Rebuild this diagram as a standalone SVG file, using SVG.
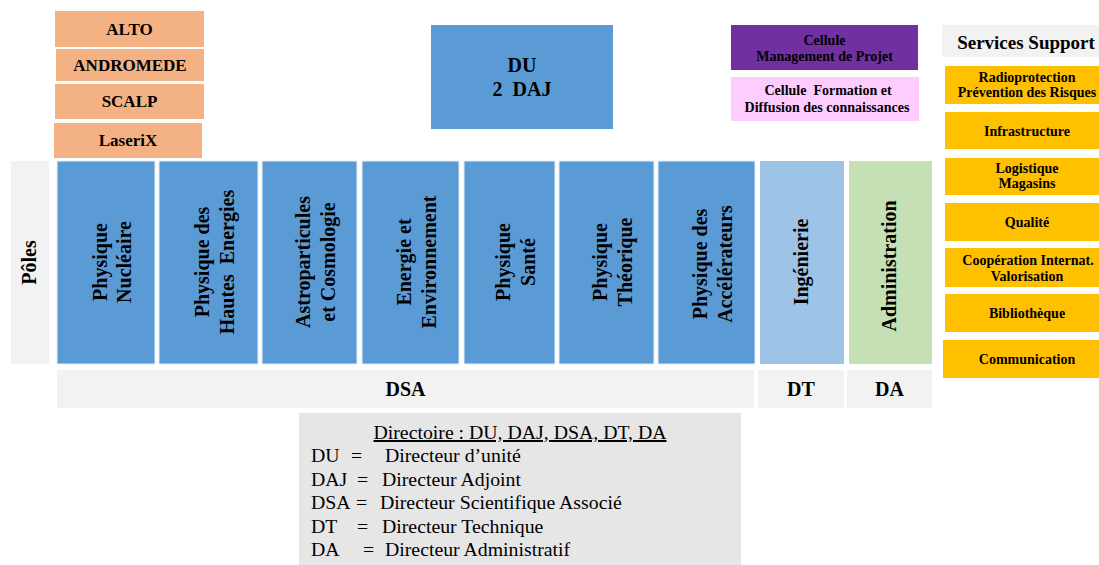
<svg xmlns="http://www.w3.org/2000/svg" width="1099" height="565" viewBox="0 0 1099 565">
<style>
text{font-family:"Liberation Serif","Times New Roman",serif;fill:#000}
.b{font-weight:bold}
.c{text-anchor:middle}
.f20{font-size:20px}
.f17{font-size:17px}
.f14{font-size:14px}
.reg{font-size:19.8px}
.orange{fill:#F4B183}
.blue{fill:#5B9BD5;stroke:#E3EEF9;stroke-width:1}
.lblue{fill:#9DC3E6}
.green{fill:#C5E0B4}
.gray{fill:#F2F2F2}
.gold{fill:#FFC000}
.purple{fill:#7030A0}
.pink{fill:#FFCCFF}
.dgray{fill:#E7E6E6}
</style>
<rect width="1099" height="565" fill="#fff"/>

<!-- Platforms -->
<g id="alto"><rect class="orange" x="55" y="11" width="149" height="36"/><text class="b c f17" x="129.5" y="35">ALTO</text></g>
<g id="andromede"><rect class="orange" x="56" y="49" width="148" height="32"/><text class="b c f17" x="130" y="71">ANDROMEDE</text></g>
<g id="scalp"><rect class="orange" x="55" y="84" width="149" height="35"/><text class="b c f17" x="129.5" y="107">SCALP</text></g>
<g id="laserix"><rect class="orange" x="54" y="123" width="148" height="35"/><text class="b c f17" x="128" y="146">LaseriX</text></g>

<!-- Direction -->
<g id="du"><rect fill="#5B9BD5" x="431" y="25" width="182" height="104"/>
<text class="b c f20" x="522" y="72">DU</text><text class="b c f20" x="522" y="96" xml:space="preserve">2  DAJ</text></g>

<!-- Cellules -->
<g id="cellule-mp"><rect class="purple" x="731" y="25" width="187" height="45"/>
<text class="b c f14" x="824.5" y="45">Cellule</text><text class="b c f14" x="824.5" y="61">Management de Projet</text></g>
<g id="cellule-formation"><rect class="pink" x="731" y="77" width="188" height="44"/>
<text class="b c f14" x="828" y="95" xml:space="preserve">Cellule  Formation et</text><text class="b c f14" x="827" y="112">Diffusion des connaissances</text></g>

<!-- Services support -->
<g id="services-support"><rect class="gray" x="942" y="25" width="157" height="32"/><text class="b c" style="font-size:19px" x="1026" y="49">Services Support</text></g>
<g id="radioprotection"><rect class="gold" x="945" y="66" width="154" height="38"/>
<text class="b c f14" x="1027" y="82">Radioprotection</text><text class="b c f14" x="1027" y="97">Prévention des Risques</text></g>
<g id="infrastructure"><rect class="gold" x="945" y="112" width="154" height="37"/><text class="b c f14" x="1027" y="136">Infrastructure</text></g>
<g id="logistique"><rect class="gold" x="945" y="158" width="154" height="37"/>
<text class="b c f14" x="1027" y="173">Logistique</text><text class="b c f14" x="1027" y="188">Magasins</text></g>
<g id="qualite"><rect class="gold" x="945" y="203" width="154" height="38"/><text class="b c f14" x="1027" y="227">Qualité</text></g>
<g id="cooperation"><rect class="gold" x="945" y="248" width="154" height="39"/>
<text class="b c f14" x="1028" y="265">Coopération Internat.</text><text class="b c f14" x="1027" y="281">Valorisation</text></g>
<g id="bibliotheque"><rect class="gold" x="945" y="294" width="154" height="38"/><text class="b c f14" x="1027" y="318">Bibliothèque</text></g>
<g id="communication"><rect class="gold" x="943" y="340" width="156" height="38"/><text class="b c f14" x="1027" y="364">Communication</text></g>

<!-- Poles -->
<g id="poles-label"><rect class="gray" x="11" y="161" width="38" height="203"/>
<text class="b c f20" transform="translate(30,262.5) rotate(-90)" y="6">Pôles</text></g>

<g id="physique-nucleaire"><rect class="blue" x="57" y="161" width="98" height="203"/>
<text class="b c f20" transform="translate(106,262) rotate(-90)"><tspan x="0" y="0.5">Physique</tspan><tspan x="0" y="25">Nucléaire</tspan></text></g>
<g id="physique-hautes-energies"><rect class="blue" x="159" y="161" width="99" height="203"/>
<text class="b c f20" transform="translate(208.5,262) rotate(-90)" xml:space="preserve"><tspan x="0" y="0.5">Physique des</tspan><tspan x="0" y="25">Hautes  Energies</tspan></text></g>
<g id="astroparticules"><rect class="blue" x="262" y="161" width="95" height="203"/>
<text class="b c f20" transform="translate(309.5,262) rotate(-90)"><tspan x="0" y="0.5">Astroparticules</tspan><tspan x="0" y="25">et Cosmologie</tspan></text></g>
<g id="energie"><rect class="blue" x="362" y="161" width="97" height="203"/>
<text class="b c f20" transform="translate(410.5,262) rotate(-90)"><tspan x="0" y="0.5">Energie et</tspan><tspan x="0" y="25">Environnement</tspan></text></g>
<g id="physique-sante"><rect class="blue" x="464" y="161" width="91" height="203"/>
<text class="b c f20" transform="translate(509.5,262) rotate(-90)"><tspan x="0" y="0.5">Physique</tspan><tspan x="0" y="25">Santé</tspan></text></g>
<g id="physique-theorique"><rect class="blue" x="559" y="161" width="95" height="203"/>
<text class="b c f20" transform="translate(606.5,262) rotate(-90)"><tspan x="0" y="0.5">Physique</tspan><tspan x="0" y="25">Théorique</tspan></text></g>
<g id="physique-accelerateurs"><rect class="blue" x="658" y="161" width="97" height="203"/>
<text class="b c f20" transform="translate(706.5,264) rotate(-90)"><tspan x="0" y="0.5">Physique des</tspan><tspan x="0" y="25">Accélérateurs</tspan></text></g>
<g id="ingenierie"><rect class="lblue" x="760" y="161" width="84" height="203"/>
<text class="b c f20" transform="translate(802,262) rotate(-90)" y="6">Ingénierie</text></g>
<g id="administration"><rect class="green" x="849" y="161" width="83" height="203"/>
<text class="b c f20" transform="translate(890.5,266) rotate(-90)" y="5">Administration</text></g>

<!-- Directors -->
<g id="dsa"><rect class="gray" x="57" y="370" width="697" height="38"/><text class="b c f20" x="405.5" y="396">DSA</text></g>
<g id="dt"><rect class="gray" x="758" y="370" width="86" height="38"/><text class="b c f20" x="801" y="396">DT</text></g>
<g id="da"><rect class="gray" x="847" y="370" width="85" height="38"/><text class="b c f20" x="889.5" y="396">DA</text></g>

<!-- Legend -->
<g id="directoire"><rect class="dgray" x="299" y="413" width="442" height="152"/>
<text class="c reg" x="520" y="439" text-decoration="underline">Directoire : DU, DAJ, DSA, DT, DA</text>
<text class="reg" y="462"><tspan x="311">DU</tspan><tspan x="351">=</tspan><tspan x="385">Directeur d’unité</tspan></text>
<text class="reg" y="486"><tspan x="311">DAJ</tspan><tspan x="357">=</tspan><tspan x="382">Directeur Adjoint</tspan></text>
<text class="reg" y="509"><tspan x="311">DSA</tspan><tspan x="356">=</tspan><tspan x="380">Directeur Scientifique Associé</tspan></text>
<text class="reg" y="533"><tspan x="311">DT</tspan><tspan x="357">=</tspan><tspan x="382">Directeur Technique</tspan></text>
<text class="reg" y="556"><tspan x="311">DA</tspan><tspan x="363">=</tspan><tspan x="385">Directeur Administratif</tspan></text>
</g>
<g id="connectors"/>
</svg>
